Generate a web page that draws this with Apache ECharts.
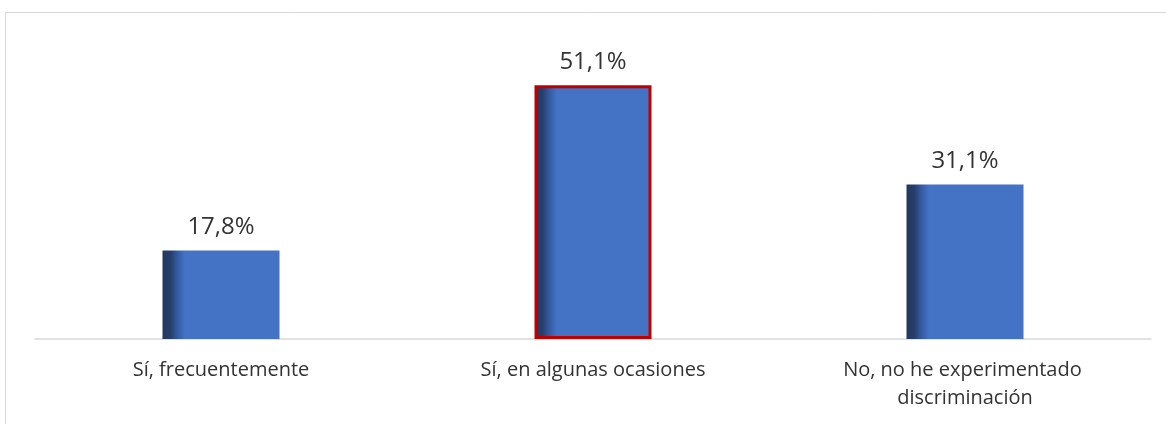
<!DOCTYPE html>
<html>
<head>
<meta charset="utf-8">
<script src="https://cdn.jsdelivr.net/npm/echarts@6/dist/echarts.min.js"></script>
<style>
  html, body { margin: 0; padding: 0; background: #fff; }
  #chart { width: 1166px; height: 424px; }
</style>
</head>
<body>
<div id="chart"></div>
<script>
const categories = ['Sí, frecuentemente', 'Sí, en algunas ocasiones', 'No, no he experimentado discriminación'];
const values = [17.8, 51.1, 31.1];
const highlighted = [false, true, false];

const barFill = {
    type: 'linear', x: 0, y: 0, x2: 1, y2: 0,
    colorStops: [
        {offset: 0, color: '#22385f'},
        {offset: 0.07, color: '#273f6c'},
        {offset: 0.12, color: '#32589b'},
        {offset: 0.19, color: '#4472c4'},
        {offset: 1, color: '#4472c4'}
    ]
};

const chart = echarts.init(document.getElementById('chart'));

const option = {
    animation: false,
    graphic: [{
        type: 'rect',
        shape: {x: 5.5, y: 12.5, width: 1300, height: 600},
        style: {fill: 'none', stroke: '#d9d9d9', lineWidth: 1}
    }],
    grid: {left: 35, right: 15, top: 41, bottom: 85},
    xAxis: {
        type: 'category',
        data: categories,
        axisLine: {lineStyle: {color: '#d9d9d9', width: 1.5}},
        axisTick: {show: false},
        axisLabel: {
            color: '#333333',
            fontFamily: 'Open Sans',
            fontSize: 20,
            lineHeight: 28,
            margin: 17,
            width: 270,
            overflow: 'break',
            interval: 0
        }
    },
    yAxis: {
        type: 'value',
        min: 0,
        max: 60,
        show: false
    },
    series: [{
        type: 'bar',
        barWidth: 117,
        data: values.map(function (v, i) {
            return {
                value: v,
                itemStyle: highlighted[i]
                    ? {color: barFill, borderColor: '#c00000', borderWidth: 3}
                    : {color: barFill}
            };
        }),
        label: {
            show: true,
            position: 'top',
            distance: 11,
            color: '#333333',
            fontFamily: 'Open Sans',
            fontSize: 24,
            formatter: function (p) {
                return p.value.toFixed(1).replace('.', ',') + '%';
            }
        }
    }]
};

chart.setOption(option);
</script>
</body>
</html>
